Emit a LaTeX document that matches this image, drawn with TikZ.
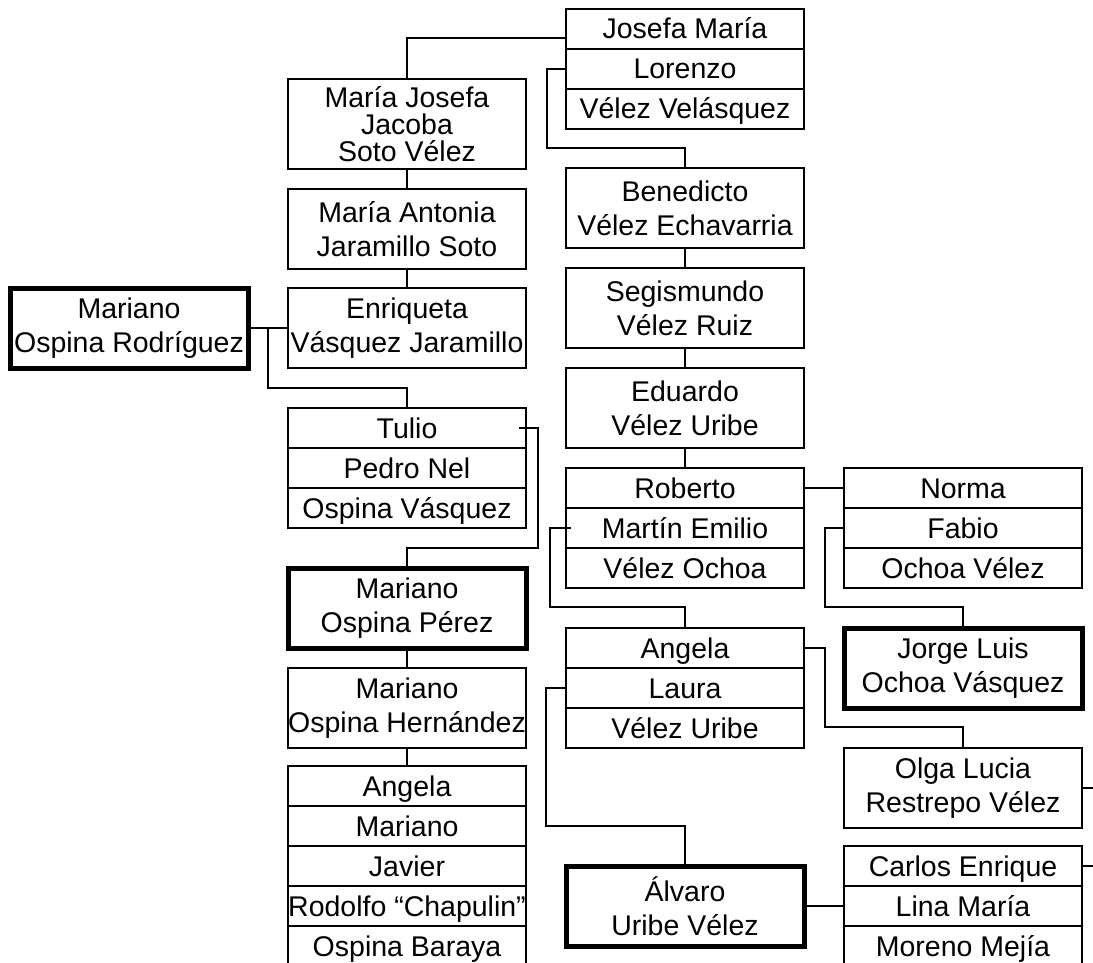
\documentclass[tikz,border=0pt]{standalone}
\usepackage{fontspec}
\setmainfont{Liberation Sans}
\usetikzlibrary{positioning,calc}

\begin{document}
\begin{tikzpicture}[
x=1pt, y=-1pt,
person/.style={rectangle, draw=black, line width=2pt, minimum width=238pt, minimum height=80pt, inner sep=0pt, outer sep=0pt, align=center, font=\fontsize{28.5pt}{34pt}\selectfont},
famous/.style={person, line width=5pt},
row/.style={rectangle, draw=black, line width=2pt, minimum width=238pt, minimum height=40pt, inner sep=0pt, outer sep=0pt, text height=20pt, text depth=0pt, font=\fontsize{28.5pt}{34pt}\selectfont},
link/.style={line width=2pt},
node distance=20pt,
]
\useasboundingbox (0,0) rectangle (1093,963);
\clip (0,0) rectangle (1093,963);
\coordinate (rim) at (1093,0);

% Velez line
\node[row] (josefa) at (685,29) {Josefa María};
\node[row, below=0pt of josefa] (lorenzo) {Lorenzo};
\node[row, below=0pt of lorenzo] (velasquez) {Vélez Velásquez};
\node[person, below=39pt of velasquez] (benedicto) {Benedicto\\Vélez Echavarria};
\node[person, below=of benedicto] (segismundo) {Segismundo\\Vélez Ruiz};
\node[person, below=of segismundo] (eduardo) {Eduardo\\Vélez Uribe};
\node[row, below=of eduardo] (roberto) {Roberto};
\node[row, below=0pt of roberto] (martin) {Martín Emilio};
\node[row, below=0pt of martin] (velezochoa) {Vélez Ochoa};
\node[row, below=40pt of velezochoa] (angela) {Angela};
\node[row, below=0pt of angela] (laura) {Laura};
\node[row, below=0pt of laura] (velezuribe) {Vélez Uribe};
\node[famous, below=118pt of velezuribe] (alvaro) {Álvaro\\Uribe Vélez};

% Ochoa line
\node[row, right=40pt of roberto] (norma) {Norma};
\node[row, below=0pt of norma] (fabio) {Fabio};
\node[row, below=0pt of fabio] (ochoavelez) {Ochoa Vélez};
\node[famous, below=40pt of ochoavelez] (jorge) {Jorge Luis\\Ochoa Vásquez};
\node[person, below=40pt of jorge] (olga) {Olga Lucia\\Restrepo Vélez};
\node[row, below=18pt of olga] (carlos) {Carlos Enrique};
\node[row, below=0pt of carlos] (lina) {Lina María};
\node[row, below=0pt of lina] (moreno) {Moreno Mejía};

% Ospina line
\node[person, minimum height=90pt, font=\fontsize{28.5pt}{27pt}\selectfont] (mariajosefa) at (407,124) {María Josefa\\Jacoba\\Soto Vélez};
\node[person, below=of mariajosefa] (mariaantonia) {María Antonia\\Jaramillo Soto};
\node[person, below=19pt of mariaantonia] (enriqueta) {Enriqueta\\Vásquez Jaramillo};
\node[famous, left=40pt of enriqueta] (rodriguez) {Mariano\\Ospina Rodríguez};
\node[row, below=40pt of enriqueta] (tulio) {Tulio};
\node[row, below=0pt of tulio] (pedronel) {Pedro Nel};
\node[row, below=0pt of pedronel] (ospinavasquez) {Ospina Vásquez};
\node[famous, below=40pt of ospinavasquez] (perez) {Mariano\\Ospina Pérez};
\node[person, below=of perez] (hernandez) {Mariano\\Ospina Hernández};
\node[row, below=18pt of hernandez] (angelaob) {Angela};
\node[row, below=0pt of angelaob] (marianoob) {Mariano};
\node[row, below=0pt of marianoob] (javier) {Javier};
\node[row, below=0pt of javier] (rodolfo) {Rodolfo “Chapulin”};
\node[row, below=0pt of rodolfo] (ospinabaraya) {Ospina Baraya};

% links
\draw[link] ([yshift=-9pt]josefa.west) -| (mariajosefa.north);
\draw[link] (lorenzo.west) -- ++(-19,0) |- ([yshift=20pt]benedicto.north) -- (benedicto.north);
\draw[link] (mariajosefa) -- (mariaantonia);
\draw[link] (mariaantonia) -- (enriqueta);
\draw[link] (rodriguez) -- (enriqueta);
\draw[link] ($(rodriguez.east)!0.5!(enriqueta.west)$) |- ([yshift=20pt]tulio.north) -- (tulio.north);
\draw[link] ([xshift=-7pt]tulio.east) -- ++(19,0) |- ([yshift=20pt]perez.north) -- (perez.north);
\draw[link] (perez) -- (hernandez);
\draw[link] (hernandez) -- (angelaob);
\draw[link] (benedicto) -- (segismundo);
\draw[link] (segismundo) -- (eduardo);
\draw[link] (eduardo) -- (roberto);
\draw[link] (roberto) -- (norma);
\draw[link] ([xshift=5pt]martin.west) -- ++(-21,0) |- ([yshift=21pt]angela.north) -- (angela.north);
\draw[link] (fabio.west) -- ++(-19,0) |- ([yshift=21pt]jorge.north) -- (jorge.north);
\draw[link] (angela.east) -- ++(21,0) |- ([yshift=21pt]olga.north) -- (olga.north);
\draw[link] (laura.west) -- ++(-20,0) |- ([yshift=40pt]alvaro.north) -- (alvaro.north);
\draw[link] (alvaro.east) -- (alvaro.east -| lina.west);
\draw[link] (olga.east) -- (olga.east -| rim);
\draw[link] (carlos.east) -- (carlos.east -| rim);
\end{tikzpicture}
\end{document}
